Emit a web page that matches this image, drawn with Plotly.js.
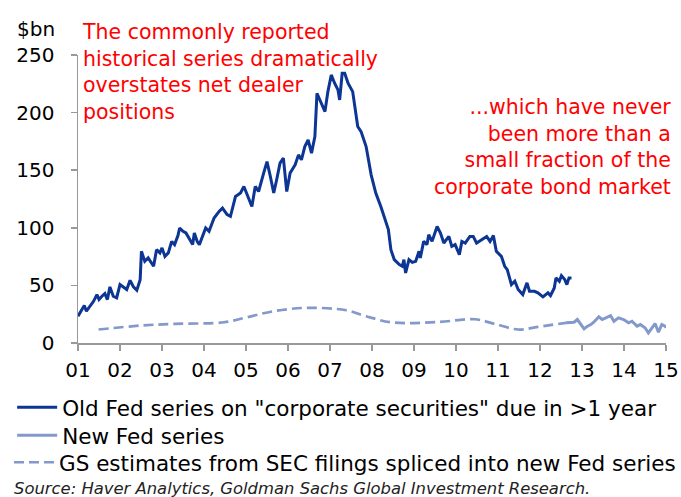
<!DOCTYPE html>
<html><head><meta charset="utf-8">
<script src="https://cdn.plot.ly/plotly-3.0.1.min.js"></script>
<style>html,body{margin:0;padding:0;background:#fff}#c{width:681px;height:497px}</style>
</head><body><div id="c"></div>
<script>
// Old Fed series on "corporate securities" due in >1 year ($bn)
const oldFedX = [2001.00,2001.05,2001.09,2001.15,2001.20,2001.29,2001.37,2001.45,2001.50,2001.57,2001.64,2001.70,2001.76,2001.84,2001.92,
2002.00,2002.08,2002.16,2002.24,2002.32,2002.40,2002.48,2002.51,2002.59,2002.67,2002.75,2002.80,2002.87,2002.95,
2003.00,2003.07,2003.15,2003.23,2003.30,2003.38,2003.42,2003.50,2003.57,2003.65,2003.73,2003.77,2003.84,2003.89,2003.96,
2004.04,2004.12,2004.24,2004.36,2004.44,2004.55,2004.63,2004.75,2004.87,2004.95,
2005.07,2005.14,2005.22,2005.30,2005.42,2005.50,2005.58,2005.66,2005.73,2005.81,2005.89,2005.97,
2006.05,2006.17,2006.25,2006.32,2006.40,2006.48,2006.56,2006.64,2006.69,2006.80,2006.88,2006.95,
2007.03,2007.11,2007.19,2007.23,2007.29,2007.35,2007.43,2007.54,2007.66,2007.74,2007.86,2007.98,
2008.09,2008.21,2008.29,2008.39,2008.45,2008.53,2008.65,2008.72,2008.76,2008.80,2008.88,2008.96,
2009.04,2009.12,2009.15,2009.23,2009.31,2009.35,2009.43,2009.55,2009.63,2009.71,2009.83,2009.90,2009.98,
2010.08,2010.14,2010.22,2010.33,2010.41,2010.49,2010.61,2010.73,2010.81,2010.89,2010.96,
2011.08,2011.16,2011.22,2011.32,2011.40,2011.48,2011.59,2011.69,2011.75,2011.87,2011.95,
2012.07,2012.19,2012.25,2012.34,2012.38,2012.46,2012.51,2012.59,2012.64,2012.69,2012.75];
const oldFedY = [23.2,26,29.0,32.5,27.6,31.9,36.2,42.0,37.7,40.6,42.9,37.7,48.7,40.6,39.2,
50.7,48.7,46.4,54.4,48.7,45.8,55.0,79.6,70.9,73.8,69.5,66.6,81.0,78.2,
82.5,75.2,78.2,88.2,85.4,93.2,99.8,96.9,95.5,90,85.4,95.5,88,85.4,92.5,
99.8,96.9,108.5,114.2,117.1,111.4,109.9,127.2,130.2,135.9,
124.4,118.5,135.9,131.5,147.5,157.5,144.5,130.2,141.7,156.1,160.5,131.5,
147.5,154.7,163.3,159,170.5,176.3,164.8,179.2,216.8,208.1,200.9,218.2,
232.7,225.5,219.7,211,234.1,234.1,225.5,218.2,187.9,183.5,170.5,146,
130.2,118.5,109.9,98.4,81,72.4,68,66.6,72.4,60.8,72.4,70,
70.9,79.6,73.8,88.2,85.4,94,88.2,101.2,95.5,86.8,92.5,83.9,85.4,
76.7,88.2,86.8,92.5,92.5,86.8,89.7,92.5,88.2,93.2,79.6,
75.2,66.6,63.7,50.7,53.6,46.4,42,52.2,44.9,44.9,43.5,
40,43.5,41.2,47.8,56.5,53.6,58.5,55,50.7,56.5,56.5];

// New Fed series ($bn)
const newFedX = [2012.62,2012.81,2012.89,2012.97,2013.05,2013.13,2013.21,2013.28,2013.40,2013.48,2013.56,2013.68,2013.76,2013.87,2013.99,
2014.11,2014.19,2014.31,2014.39,2014.50,2014.58,2014.66,2014.74,2014.82,2014.90,2014.98,2015.00];
const newFedY = [17.5,18.0,20.4,16.0,12.3,14.6,16.0,18.0,22.7,20.4,21.8,23.8,18.9,21.8,20.4,
17.5,18.9,14.6,16.0,13.2,8.8,13.2,16.9,9.4,16.0,14.6,13.2];

// GS estimates from SEC filings spliced into new Fed series ($bn)
const gsX = [2001.49,2002.51,2003.30,2004.48,2005.03,2005.66,2006.44,2007.39,2007.86,2008.49,2009.59,2010.45,2010.92,2011.48,2011.95,2012.62];
const gsY = [11.7,15.2,16.6,18.0,22.4,27.6,30.5,28.4,23.2,17.8,18.3,20.6,16.6,11.7,14.0,17.5];

const yearTicks = [2001,2002,2003,2004,2005,2006,2007,2008,2009,2010,2011,2012,2013,2014,2015];
const yearLabels = ["01","02","03","04","05","06","07","08","09","10","11","12","13","14","15"];
const yTicks = [0,50,100,150,200,250];

const seriesNames = ['Old Fed series on "corporate securities" due in >1 year','New Fed series','GS estimates from SEC filings spliced into new Fed series'];
const darkBlue = '#0c3594', lightBlue = '#8398cb';
const FONT = 'DejaVu Sans, Arial, sans-serif';

const traces = [
  {x: oldFedX, y: oldFedY, name: seriesNames[0], legend: 'legend', mode: 'lines', line: {color: darkBlue, width: 3}},
  {x: newFedX, y: newFedY, name: seriesNames[1], legend: 'legend2', mode: 'lines', line: {color: lightBlue, width: 3}},
  {x: gsX, y: gsY, name: seriesNames[2], legend: 'legend3', mode: 'lines', line: {color: lightBlue, width: 2.7, dash: '10px,5px', shape: 'spline', smoothing: 1}}
];

function leg(ypx) {
  return {x: -0.112, xanchor: 'left', y: (343.5 - ypx) / 288.5, yanchor: 'middle', orientation: 'v',
          font: {family: FONT, size: 21.5, color: '#000'}, bgcolor: 'rgba(0,0,0,0)', itemwidth: 40, borderwidth: 0};
}

const layout = {
  width: 681, height: 497,
  margin: {l: 72.7, r: 15, t: 55, b: 153.5, pad: 0},
  paper_bgcolor: '#fff', plot_bgcolor: '#fff',
  font: {family: FONT, size: 20, color: '#000'},
  showlegend: true,
  legend: leg(408), legend2: leg(436), legend3: leg(463),
  xaxis: {range: [2001, 2015], tickvals: yearTicks, ticktext: yearLabels, showgrid: false, zeroline: false,
          showline: true, linecolor: '#999', linewidth: 1.5, ticks: 'outside', ticklen: 6, tickcolor: '#999', tickwidth: 1.5,
          tickfont: {family: FONT, size: 20, color: '#000'}, ticklabelstandoff: 2},
  yaxis: {range: [0, 250], tickvals: yTicks, showgrid: false, zeroline: false,
          showline: true, linecolor: '#999', linewidth: 1.5, ticks: 'outside', ticklen: 6, tickcolor: '#999', tickwidth: 1.5,
          tickfont: {family: FONT, size: 20, color: '#000'}, ticklabelstandoff: 12},
  annotations: [
    {text: '$bn', xref: 'paper', yref: 'paper', x: -0.0365, y: 1.09, xanchor: 'right', yanchor: 'middle', showarrow: false,
     font: {family: FONT, size: 20, color: '#000'}},
    {text: 'The commonly reported<br>historical series dramatically<br>overstates net dealer<br>positions', xref: 'paper', yref: 'paper',
     x: 0.004, y: 1.13, xanchor: 'left', yanchor: 'top', align: 'left', showarrow: false,
     font: {family: FONT, size: 20.5, color: '#ff0000'}},
    {text: '...which have never<br>been more than a<br>small fraction of the<br>corporate bond market', xref: 'paper', yref: 'paper',
     x: 1.012, y: 0.868, xanchor: 'right', yanchor: 'top', align: 'right', showarrow: false,
     font: {family: FONT, size: 20.5, color: '#ff0000'}},
    {text: '<i>Source: Haver Analytics, Goldman Sachs Global Investment Research.</i>', xref: 'paper', yref: 'paper',
     x: -0.112, y: (343.5 - 489) / 288.5, xanchor: 'left', yanchor: 'middle', showarrow: false, align: 'left',
     font: {family: FONT, size: 16.4, color: '#222'}}
  ]
};

Plotly.newPlot('c', traces, layout, {displayModeBar: false, staticPlot: true});
</script></body></html>
